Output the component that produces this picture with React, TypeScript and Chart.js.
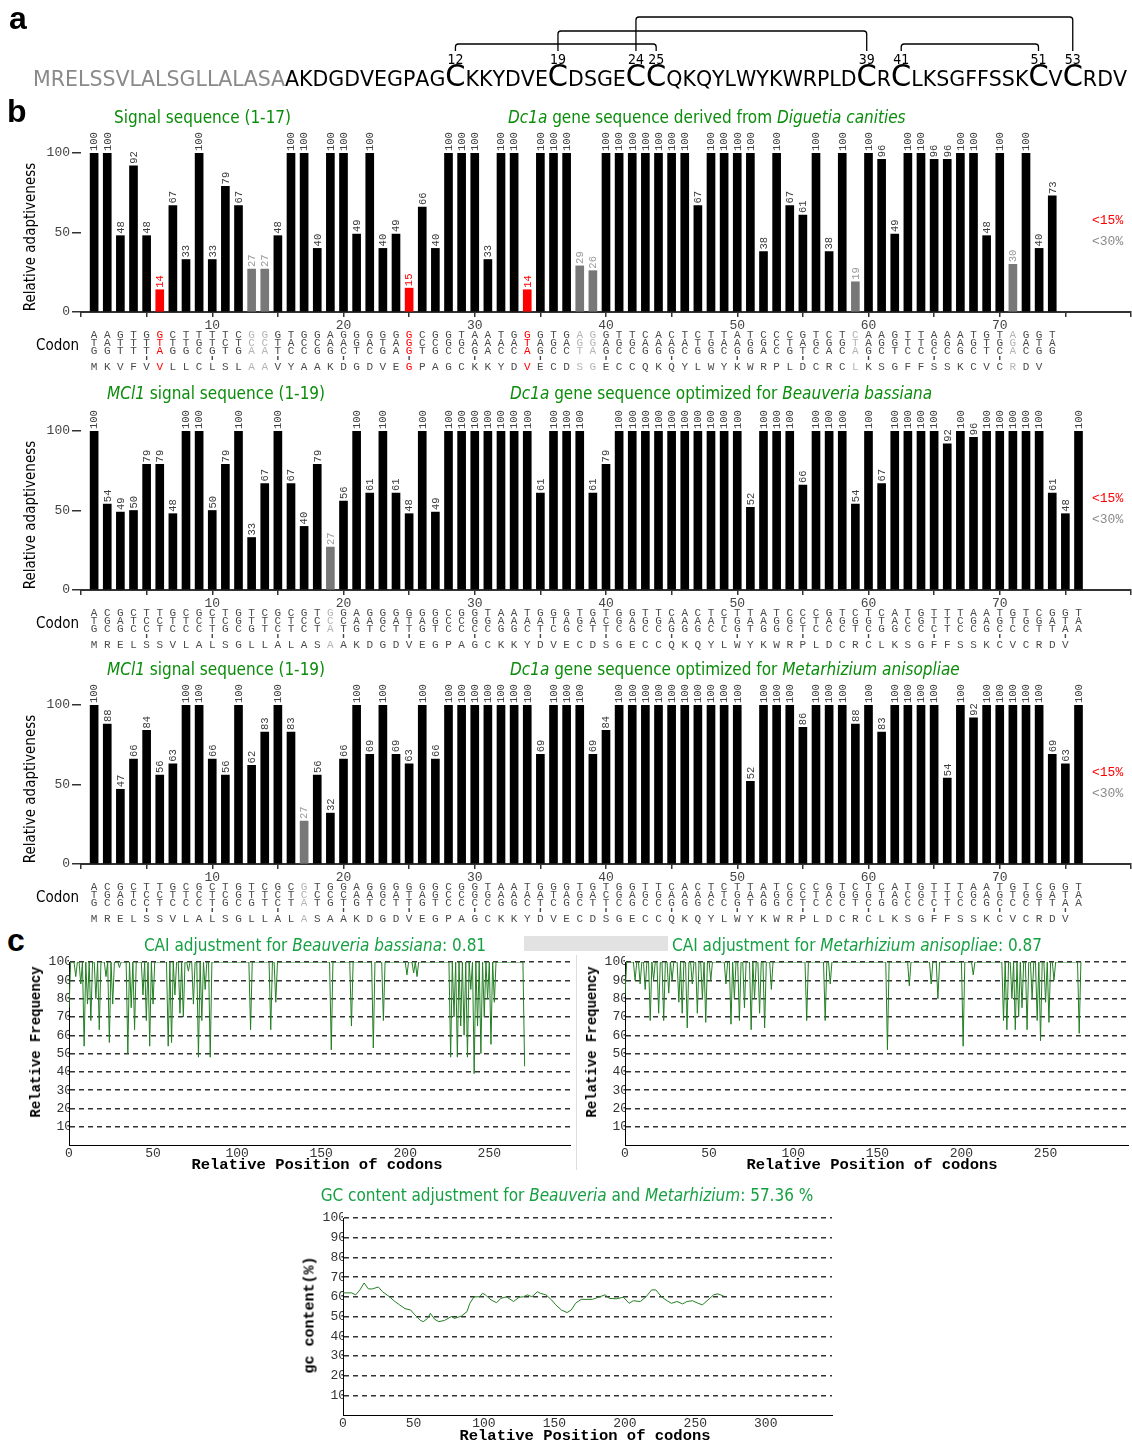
import { useEffect, useRef } from 'react';
import { Chart, registerables } from 'chart.js';
Chart.register(...registerables);

const NARROW = '"Liberation Sans Narrow","DejaVu Sans Condensed","Liberation Sans",Arial,sans-serif';
const SANS = '"Liberation Sans",Arial,sans-serif';
const MONO = '"Liberation Mono","Courier New",monospace';
const GREEN_B = '#0b8c0b';
const GREEN_C = '#17a043';

// ---------- panel a ----------
const SIGNAL_PEPTIDE = 'MRELSSVLALSGLLALASA';
const MATURE_PEPTIDE = 'AKDGDVEGPAGCKKYDVECDSGECCQKQYLWYKWRPLDCRCLKSGFFSSKCVCRDV';
const BOND_FROM = [12, 19, 24, 41];
const BOND_TO = [25, 39, 53, 51];

// ---------- panel b ----------
const NATIVE_VALUES = [100,100,48,92,48,14,67,33,100,33,79,67,27,27,48,100,100,40,100,100,49,100,40,49,15,66,40,100,100,100,33,100,100,14,100,100,100,29,26,100,100,100,100,100,100,100,67,100,100,100,100,38,100,67,61,100,38,100,19,100,96,49,100,100,96,96,100,100,48,100,30,100,40,73];
const NATIVE_ROW1 = 'AAGTGGCTTTTCGGGTGGAGGGGGGCGGTAATGGGTGAGGTTCACTCTTATCCCGTCTCAAGTTAAATGTAGGT';
const NATIVE_ROW2 = 'TATTTTTTGTCTCCTACCAAGATAGCCGGAAAATAGAGGAGGAAAATGAAGGCTAGGGTAGGTTGGAGTGGATA';
const NATIVE_ROW3 = 'GGTTTAGGCGTGAATCCGGCTCGAGTGCCGACCAGCCTAGCCGGGCGGCGGACGTCACAGCTCCCCGCTCACGG';
const NATIVE_AMINO = 'MKVFVVLLCLSLAAVYAAKDGDVEGPAGCKKYDVECDSGECCQKQYLWYKWRPLDCRCLKSGFFSSKCVCRDV';

const BB_VALUES = [100,54,49,50,79,79,48,100,100,50,79,100,33,67,100,67,40,79,27,56,100,61,100,61,48,100,49,100,100,100,100,100,100,100,61,100,100,100,61,79,100,100,100,100,100,100,100,100,100,100,52,100,100,100,66,100,100,100,54,100,67,100,100,100,100,92,100,96,100,100,100,100,100,61,48,100];
const BB_ROW1 = 'ACGCTTGCGCTGTCGCGTGGAGGGGGGCGGTAATGGGTGTGGTTCACTCTTATCCCGTCTCATGTTTAATGTCGGT';
const BB_ROW2 = 'TGATCCTTCTCGTTCTCCCCAAGATAGCCGGAAAATAGACGAGGAAAATGAAGGCTAGGGTACGTTCGAGTGGATA';
const BB_ROW3 = 'GCGCCTCCCTGCGTCTCTATGTCTTGTCCCCGGCTCGCTTCGCCGGGCCGTGGCTCCCTCGGCCCTCCGCCCTTAA';

const MA_VALUES = [100,88,47,66,84,56,63,100,100,66,56,100,62,83,100,83,27,56,32,66,100,69,100,69,63,100,66,100,100,100,100,100,100,100,69,100,100,100,69,84,100,100,100,100,100,100,100,100,100,100,52,100,100,100,86,100,100,100,88,100,83,100,100,100,100,54,100,92,100,100,100,100,100,69,63,100];
const MA_ROW1 = 'ACGCTTGCGCTGTCGCGTGGAGGGGGGCGGTAATGGGTGTGGTTCACTCTTATCCCGTCTCATGTTTAATGTCGGT';
const MA_ROW2 = 'TGATCCTTCTCGTTCTCCCCAAGATAGCCGGAAAATAGACGAGGAAAATGAAGGCTAGGGTACGTTCGAGTGGATA';
const MA_ROW3 = 'GCGCCTCCCTGCGTCTATGTGTCTTGTCCCCGGCTCGCTTCGCCGGGCCGTGGCTCCCTCGGCCCTCCGCCCTTAA';
const OPT_AMINO = SIGNAL_PEPTIDE + MATURE_PEPTIDE;

const X_TICKS_B = [10, 20, 30, 40, 50, 60, 70];

// ---------- panel c ----------
const CAI_LENGTH = 272;
const BB_DIP_POS = [0,4,7,9,11,13,16,18,22,24,26,30,35,37,39,44,46,48,50,59,61,63,66,68,71,74,77,79,81,84,108,120,123,156,168,181,187,201,205,207,227,229,231,233,235,237,239,241,243,245,247,249,251,253,271];
const BB_DIP_VAL = [75,92,88,54,77,68,80,63,92,56,77,97,50,75,63,82,68,54,77,54,56,82,72,70,95,77,48,68,85,48,63,63,78,52,65,53,68,93,94,92,48,70,48,65,60,48,85,39,65,50,70,80,55,78,43];
const MA_DIP_POS = [0,6,9,12,15,17,20,23,26,28,32,34,37,40,43,46,48,51,60,63,65,68,71,75,77,80,83,87,108,119,122,156,169,182,186,201,207,225,227,230,232,234,236,239,242,245,247,250,252,255,270];
const MA_DIP_VAL = [82,90,88,85,68,90,72,68,83,90,78,72,64,88,72,80,67,90,88,66,80,68,75,63,80,72,64,85,68,68,88,52,87,88,80,54,93,68,63,80,63,70,75,63,80,68,57,78,67,90,61];
const GC_X = [0,6,9,12,15,18,21,25,28,33,37,40,44,48,51,55,57,60,62,65,68,72,77,79,84,88,90,93,97,99,101,105,109,112,116,121,125,128,131,134,138,140,144,148,151,155,159,162,165,169,177,182,186,189,194,199,203,206,211,215,219,222,226,230,233,237,241,244,248,252,255,259,263,266,270];
const GC_Y = [62,62,61,63.5,67,64,64,65,62.6,60,57.5,56,54,53.3,50.8,48,47.4,49,51.6,48.6,47.4,48,50,49,50.2,52.5,56.7,60,60,61.8,61,58.4,57,59.2,60,57.6,59.8,60,61,60,62.6,61.8,61,58.4,55.9,53.3,52,53.3,56.7,58.7,58.7,60,61,59.2,59,59.8,56.7,58,57.6,60,63.5,63.5,60,58,56.7,57.6,56.4,57.6,58,56.7,55.9,58.4,61,61.5,60.4];
const CAI_X_TICKS = [0, 50, 100, 150, 200, 250];
const GC_X_TICKS = [0, 50, 100, 150, 200, 250, 300];
const PCT_TICKS = [0, 10, 20, 30, 40, 50, 60, 70, 80, 90, 100];

function caiSeries(pos: number[], val: number[]) {
  const m = new Map<number, number>();
  pos.forEach((p, i) => m.set(p, val[i]));
  return Array.from({ length: CAI_LENGTH }, (_, i) => ({ x: i, y: m.has(i) ? (m.get(i) as number) : 100 }));
}

// ---------- components ----------
function SequencePanel() {
  const ref = useRef<HTMLCanvasElement>(null);
  useEffect(() => {
    const cv = ref.current;
    if (!cv) return;
    const ctx = cv.getContext('2d')!;
    ctx.clearRect(0, 0, cv.width, cv.height);
    const small = `22px ${NARROW}`;
    const big = `31px ${NARROW}`;
    const letters = [
      ...[...SIGNAL_PEPTIDE].map((ch) => ({ ch, color: '#8a8a8a', big: false, num: 0 })),
      ...[...MATURE_PEPTIDE].map((ch, i) => ({ ch, color: '#000', big: ch === 'C', num: i + 1 })),
    ];
    let total = 0;
    const widths = letters.map((l) => {
      ctx.font = l.big ? big : small;
      const w = ctx.measureText(l.ch).width;
      total += w;
      return w;
    });
    const x0 = 33, x1 = 1127;
    const sx = (x1 - x0) / total;
    const baseY = 86;
    const centers: Record<number, number> = {};
    let x = x0;
    letters.forEach((l, i) => {
      const w = widths[i] * sx;
      ctx.save();
      ctx.translate(x, baseY);
      ctx.scale(sx, 1);
      ctx.font = l.big ? big : small;
      ctx.fillStyle = l.color;
      ctx.fillText(l.ch, 0, 0);
      ctx.restore();
      if (l.big) centers[l.num] = x + w / 2;
      x += w;
    });
    ctx.font = `14px ${NARROW}`;
    ctx.fillStyle = '#000';
    ctx.textAlign = 'center';
    Object.keys(centers).forEach((k) => ctx.fillText(k, centers[+k], 64));
    const levels = [44, 31, 17, 44];
    ctx.strokeStyle = '#000';
    ctx.lineWidth = 1.3;
    BOND_FROM.forEach((a, k) => {
      const xa = centers[a], xb = centers[BOND_TO[k]], ly = levels[k], r = 3, yb = 51;
      ctx.beginPath();
      ctx.moveTo(xa, yb);
      ctx.lineTo(xa, ly + r);
      ctx.quadraticCurveTo(xa, ly, xa + r, ly);
      ctx.lineTo(xb - r, ly);
      ctx.quadraticCurveTo(xb, ly, xb, ly + r);
      ctx.lineTo(xb, yb);
      ctx.stroke();
    });
  }, []);
  return <canvas ref={ref} width={1132} height={95} style={{ position: 'absolute', left: 0, top: 0 }} />;
}

function BarPanel({ top, values, rows, amino }: { top: number; values: number[]; rows: string[]; amino: string }) {
  const ref = useRef<HTMLCanvasElement>(null);
  useEffect(() => {
    const canvas = ref.current;
    if (!canvas) return;
    const barColor = (v: number) => (v <= 15 ? '#ff0000' : v <= 30 ? '#787878' : '#000000');
    const textColor = (v: number) => (v <= 15 ? '#ff0000' : v <= 30 ? '#9a9a9a' : '#3c3c3c');
    const letterColor = (v: number) => (v <= 15 ? '#ff0000' : v <= 30 ? '#b4b4b4' : '#4a4a4a');
    const plugin = {
      id: 'codonText',
      afterDatasetsDraw(chart: any) {
        const { ctx } = chart;
        const xs = chart.scales.x, ys = chart.scales.y;
        const y0 = ys.getPixelForValue(0);
        ctx.save();
        ctx.font = `10.5px ${MONO}`;
        ctx.textBaseline = 'middle';
        values.forEach((v, i) => {
          const px = xs.getPixelForValue(i + 1);
          const py = ys.getPixelForValue(v);
          ctx.save();
          ctx.translate(px + 0.5, py - 2);
          ctx.rotate(-Math.PI / 2);
          ctx.textAlign = 'left';
          ctx.fillStyle = textColor(v);
          ctx.fillText(String(v), 0, 0);
          ctx.restore();
        });
        ctx.font = `11px ${MONO}`;
        ctx.textAlign = 'center';
        const offs = [23, 31, 39];
        for (let i = 0; i < values.length; i++) {
          const px = xs.getPixelForValue(i + 1);
          ctx.fillStyle = letterColor(values[i]);
          rows.forEach((r, k) => {
            if (r[i]) ctx.fillText(r[i], px, y0 + offs[k]);
          });
          if (amino[i]) ctx.fillText(amino[i], px, y0 + 55);
          if ((i + 1) % 5 === 0) {
            ctx.fillStyle = '#444';
            ctx.fillRect(px - 0.7, y0 + 44, 1.4, 4);
          }
        }
        ctx.restore();
      },
    };
    const chart = new Chart(canvas, {
      type: 'bar',
      data: {
        datasets: [
          {
            data: values.map((v, i) => ({ x: i + 1, y: v })),
            backgroundColor: values.map(barColor),
            borderWidth: 0,
            barThickness: 8,
          } as any,
        ],
      },
      options: {
        responsive: false,
        animation: false,
        layout: { padding: { top: 50, right: 0, bottom: 51, left: 0 } },
        plugins: { legend: { display: false }, tooltip: { enabled: false } },
        scales: {
          x: {
            type: 'linear',
            min: 0,
            max: 80,
            offset: false,
            border: { display: true, color: '#333', width: 2 },
            grid: { display: true, offset: false, drawOnChartArea: false, tickLength: 5, color: '#333', lineWidth: 1.5 },
            ticks: {
              stepSize: 5,
              autoSkip: false,
              maxRotation: 0,
              padding: 1,
              color: '#444',
              font: { family: MONO, size: 13 },
              callback: (v: any) => (X_TICKS_B.includes(Number(v)) ? String(v) : ''),
            },
            afterFit: (s: any) => {
              s.height = 20;
            },
          },
          y: {
            min: 0,
            max: 100,
            border: { display: false },
            grid: { drawOnChartArea: false, tickLength: 9, color: '#333', lineWidth: 1.5 },
            ticks: { stepSize: 50, autoSkip: false, padding: 2, color: '#444', font: { family: MONO, size: 13 } },
            afterFit: (s: any) => {
              s.width = 81;
            },
          },
        },
      } as any,
      plugins: [plugin],
    });
    return () => chart.destroy();
  }, [values, rows, amino]);
  return <canvas ref={ref} width={1132} height={280} style={{ position: 'absolute', left: 0, top }} />;
}

function LinePanel(props: {
  left: number; top: number; width: number; height: number;
  yw: number; padR: number; padT: number; xh: number; padB: number; xMax: number;
  xTicks: number[]; points: { x: number; y: number }[];
}) {
  const ref = useRef<HTMLCanvasElement>(null);
  const { left, top, width, height, yw, padR, padT, xh, padB, xMax, xTicks, points } = props;
  useEffect(() => {
    const canvas = ref.current;
    if (!canvas) return;
    const chart = new Chart(canvas, {
      type: 'line',
      data: {
        datasets: [
          { data: points, borderColor: '#237f23', borderWidth: 1, pointRadius: 0, tension: 0, fill: false } as any,
        ],
      },
      options: {
        responsive: false,
        animation: false,
        layout: { padding: { top: padT, right: padR, bottom: padB, left: 0 } },
        plugins: { legend: { display: false }, tooltip: { enabled: false } },
        scales: {
          x: {
            type: 'linear',
            min: 0,
            max: xMax,
            border: { display: true, color: '#000', width: 1 },
            grid: { display: false, drawTicks: false },
            afterBuildTicks: (s: any) => {
              s.ticks = xTicks.map((v) => ({ value: v }));
            },
            ticks: {
              autoSkip: false,
              maxRotation: 0,
              minRotation: 0,
              padding: 1,
              color: '#333',
              font: { family: MONO, size: 13 },
              callback: (v: any) => String(v),
            },
            afterFit: (s: any) => {
              s.height = xh;
            },
          },
          y: {
            min: 0,
            max: 100,
            border: { display: true, color: '#000', width: 1, dash: [5, 4] },
            grid: {
              drawTicks: false,
              lineWidth: 1.4,
              color: (c: any) => (c.tick && c.tick.value === 0 ? 'rgba(0,0,0,0)' : '#333'),
            },
            afterBuildTicks: (s: any) => {
              s.ticks = PCT_TICKS.map((v) => ({ value: v }));
            },
            ticks: {
              autoSkip: false,
              padding: -3,
              color: '#333',
              font: { family: MONO, size: 13 },
              callback: (v: any) => (Number(v) === 0 ? '' : String(v)),
            },
            afterFit: (s: any) => {
              s.width = yw;
            },
          },
        },
      } as any,
    });
    return () => chart.destroy();
  }, [points, xMax, xTicks]);
  return <canvas ref={ref} width={width} height={height} style={{ position: 'absolute', left, top }} />;
}

function Txt(props: {
  x: number; y: number; size: number; children: any; anchor?: 'left' | 'center';
  font?: string; color?: string; weight?: string | number; rotate?: boolean;
}) {
  const { x, y, size, children, anchor = 'left', font = NARROW, color = '#000', weight = 'normal', rotate = false } = props;
  let transform = anchor === 'center' ? 'translate(-50%,-50%)' : 'translate(0,-50%)';
  if (rotate) transform = 'translate(-50%,-50%) rotate(-90deg)';
  return (
    <div
      style={{
        position: 'absolute', left: x, top: y, fontFamily: font, fontSize: size, color, fontWeight: weight as any,
        lineHeight: 1, whiteSpace: 'nowrap', transform,
      }}
    >
      {children}
    </div>
  );
}

const I = ({ children }: { children: any }) => <i>{children}</i>;

const bbPoints = caiSeries(BB_DIP_POS, BB_DIP_VAL);
const maPoints = caiSeries(MA_DIP_POS, MA_DIP_VAL);
const gcPoints = GC_X.map((x, i) => ({ x, y: GC_Y[i] }));

export default function App() {
  const panels = [
    { top: 103, values: NATIVE_VALUES, rows: [NATIVE_ROW1, NATIVE_ROW2, NATIVE_ROW3], amino: NATIVE_AMINO, y0: 312 },
    { top: 381, values: BB_VALUES, rows: [BB_ROW1, BB_ROW2, BB_ROW3], amino: OPT_AMINO, y0: 590 },
    { top: 655, values: MA_VALUES, rows: [MA_ROW1, MA_ROW2, MA_ROW3], amino: OPT_AMINO, y0: 864 },
  ];
  return (
    <div style={{ position: 'absolute', left: 0, top: 0, width: 1132, height: 1444, background: '#fff', overflow: 'hidden' }}>
      <SequencePanel />
      <Txt x={9} y={18} size={32} font={SANS} weight="bold">a</Txt>
      <Txt x={7} y={111} size={32} font={SANS} weight="bold">b</Txt>
      <Txt x={7} y={940} size={32} font={SANS} weight="bold">c</Txt>

      {panels.map((p, k) => (
        <BarPanel key={k} top={p.top} values={p.values} rows={p.rows} amino={p.amino} />
      ))}

      {/* panel b titles */}
      <Txt x={114} y={117} size={17} color={GREEN_B}>Signal sequence (1-17)</Txt>
      <Txt x={508} y={117} size={17} color={GREEN_B}><I>Dc1a</I> gene sequence derived from <I>Diguetia canities</I></Txt>
      <Txt x={107} y={393} size={17} color={GREEN_B}><I>MCl1</I> signal sequence (1-19)</Txt>
      <Txt x={510} y={393} size={17} color={GREEN_B}><I>Dc1a</I> gene sequence optimized for <I>Beauveria bassiana</I></Txt>
      <Txt x={107} y={669} size={17} color={GREEN_B}><I>MCl1</I> signal sequence (1-19)</Txt>
      <Txt x={510} y={669} size={17} color={GREEN_B}><I>Dc1a</I> gene sequence optimized for <I>Metarhizium anisopliae</I></Txt>

      {panels.map((p, k) => (
        <div key={'l' + k}>
          <Txt x={30} y={p.y0 - 75} size={15} rotate>Relative adaptiveness</Txt>
          <Txt x={36} y={p.y0 + 33} size={15}>Codon</Txt>
          <Txt x={1092} y={p.y0 - 92} size={13} font={MONO} color="#ff0000">&lt;15%</Txt>
          <Txt x={1092} y={p.y0 - 71} size={13} font={MONO} color="#8a8a8a">&lt;30%</Txt>
        </div>
      ))}

      {/* panel c */}
      <div style={{ position: 'absolute', left: 524, top: 936, width: 144, height: 15, background: '#e2e2e2' }} />
      <div style={{ position: 'absolute', left: 576, top: 955, width: 1, height: 215, background: '#dcdcdc' }} />
      <LinePanel left={0} top={930} width={578} height={250} yw={69} padR={8} padT={32} xh={20} padB={15} xMax={298} xTicks={CAI_X_TICKS} points={bbPoints} />
      <LinePanel left={580} top={930} width={552} height={250} yw={45} padR={4} padT={32} xh={20} padB={15} xMax={299} xTicks={CAI_X_TICKS} points={maPoints} />
      <LinePanel left={290} top={1200} width={560} height={244} yw={53} padR={18} padT={18} xh={20} padB={9} xMax={347} xTicks={GC_X_TICKS} points={gcPoints} />

      <Txt x={315} y={945} size={17} anchor="center" color={GREEN_C}>CAI adjustment for <I>Beauveria bassiana</I>: 0.81</Txt>
      <Txt x={857} y={945} size={17} anchor="center" color={GREEN_C}>CAI adjustment for <I>Metarhizium anisopliae</I>: 0.87</Txt>
      <Txt x={567} y={1195} size={17} anchor="center" color={GREEN_C}>GC content adjustment for <I>Beauveria</I> and <I>Metarhizium</I>: 57.36 %</Txt>

      <Txt x={317} y={1166} size={15.5} anchor="center" font={MONO} weight="bold">Relative Position of codons</Txt>
      <Txt x={872} y={1166} size={15.5} anchor="center" font={MONO} weight="bold">Relative Position of codons</Txt>
      <Txt x={585} y={1437} size={15.5} anchor="center" font={MONO} weight="bold">Relative Position of codons</Txt>
      <Txt x={36} y={1042} size={14} font={MONO} weight="bold" rotate>Relative Frequency</Txt>
      <Txt x={592} y={1042} size={14} font={MONO} weight="bold" rotate>Relative Frequency</Txt>
      <Txt x={310} y={1315} size={15} font={MONO} weight="bold" rotate>gc content(%)</Txt>
    </div>
  );
}
